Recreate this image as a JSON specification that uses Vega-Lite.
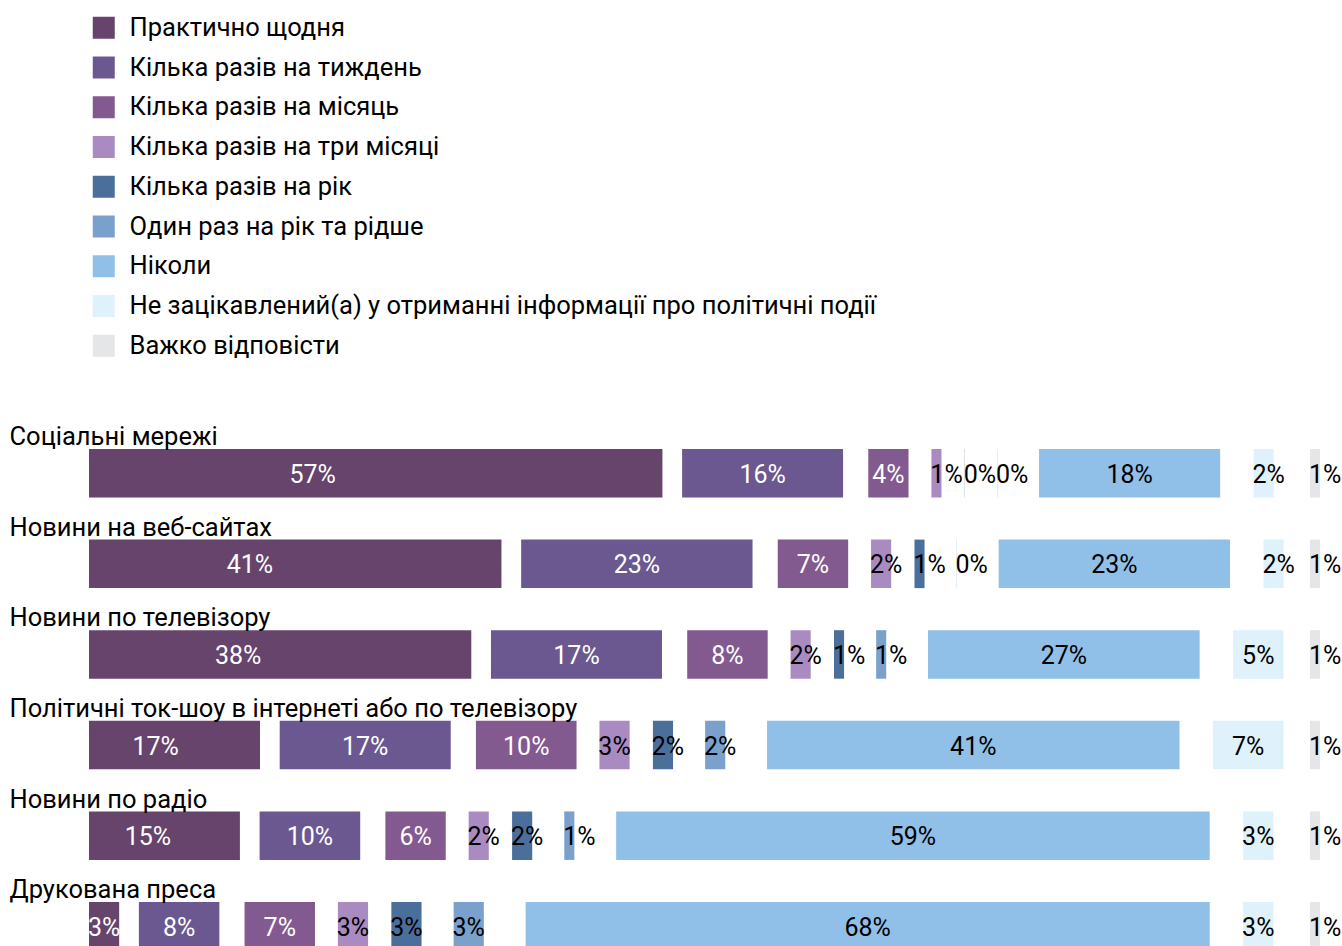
{
  "$schema": "https://vega.github.io/schema/vega-lite/v6.json",
  "width": 1253,
  "height": 501.5,
  "autosize": {"type": "none"},
  "padding": {"left": 89, "top": 449, "right": 0, "bottom": -5},
  "background": "white",
  "config": {
    "font": "Roboto",
    "view": {"stroke": null}
  },
  "data": {
    "values": [
      {"source": "Соціальні мережі", "category": "Практично щодня", "value": 57},
      {"source": "Соціальні мережі", "category": "Кілька разів на тиждень", "value": 16},
      {"source": "Соціальні мережі", "category": "Кілька разів на місяць", "value": 4},
      {"source": "Соціальні мережі", "category": "Кілька разів на три місяці", "value": 1},
      {"source": "Соціальні мережі", "category": "Кілька разів на рік", "value": 0.02},
      {"source": "Соціальні мережі", "category": "Один раз на рік та рідше", "value": 0.02},
      {"source": "Соціальні мережі", "category": "Ніколи", "value": 18},
      {"source": "Соціальні мережі", "category": "Не зацікавлений(а) у отриманні інформації про політичні події", "value": 2},
      {"source": "Соціальні мережі", "category": "Важко відповісти", "value": 1},
      {"source": "Новини на веб-сайтах", "category": "Практично щодня", "value": 41},
      {"source": "Новини на веб-сайтах", "category": "Кілька разів на тиждень", "value": 23},
      {"source": "Новини на веб-сайтах", "category": "Кілька разів на місяць", "value": 7},
      {"source": "Новини на веб-сайтах", "category": "Кілька разів на три місяці", "value": 2},
      {"source": "Новини на веб-сайтах", "category": "Кілька разів на рік", "value": 1},
      {"source": "Новини на веб-сайтах", "category": "Один раз на рік та рідше", "value": 0.02},
      {"source": "Новини на веб-сайтах", "category": "Ніколи", "value": 23},
      {"source": "Новини на веб-сайтах", "category": "Не зацікавлений(а) у отриманні інформації про політичні події", "value": 2},
      {"source": "Новини на веб-сайтах", "category": "Важко відповісти", "value": 1},
      {"source": "Новини по телевізору", "category": "Практично щодня", "value": 38},
      {"source": "Новини по телевізору", "category": "Кілька разів на тиждень", "value": 17},
      {"source": "Новини по телевізору", "category": "Кілька разів на місяць", "value": 8},
      {"source": "Новини по телевізору", "category": "Кілька разів на три місяці", "value": 2},
      {"source": "Новини по телевізору", "category": "Кілька разів на рік", "value": 1},
      {"source": "Новини по телевізору", "category": "Один раз на рік та рідше", "value": 1},
      {"source": "Новини по телевізору", "category": "Ніколи", "value": 27},
      {"source": "Новини по телевізору", "category": "Не зацікавлений(а) у отриманні інформації про політичні події", "value": 5},
      {"source": "Новини по телевізору", "category": "Важко відповісти", "value": 1},
      {"source": "Політичні ток-шоу в інтернеті або по телевізору", "category": "Практично щодня", "value": 17},
      {"source": "Політичні ток-шоу в інтернеті або по телевізору", "category": "Кілька разів на тиждень", "value": 17},
      {"source": "Політичні ток-шоу в інтернеті або по телевізору", "category": "Кілька разів на місяць", "value": 10},
      {"source": "Політичні ток-шоу в інтернеті або по телевізору", "category": "Кілька разів на три місяці", "value": 3},
      {"source": "Політичні ток-шоу в інтернеті або по телевізору", "category": "Кілька разів на рік", "value": 2},
      {"source": "Політичні ток-шоу в інтернеті або по телевізору", "category": "Один раз на рік та рідше", "value": 2},
      {"source": "Політичні ток-шоу в інтернеті або по телевізору", "category": "Ніколи", "value": 41},
      {"source": "Політичні ток-шоу в інтернеті або по телевізору", "category": "Не зацікавлений(а) у отриманні інформації про політичні події", "value": 7},
      {"source": "Політичні ток-шоу в інтернеті або по телевізору", "category": "Важко відповісти", "value": 1},
      {"source": "Новини по радіо", "category": "Практично щодня", "value": 15},
      {"source": "Новини по радіо", "category": "Кілька разів на тиждень", "value": 10},
      {"source": "Новини по радіо", "category": "Кілька разів на місяць", "value": 6},
      {"source": "Новини по радіо", "category": "Кілька разів на три місяці", "value": 2},
      {"source": "Новини по радіо", "category": "Кілька разів на рік", "value": 2},
      {"source": "Новини по радіо", "category": "Один раз на рік та рідше", "value": 1},
      {"source": "Новини по радіо", "category": "Ніколи", "value": 59},
      {"source": "Новини по радіо", "category": "Не зацікавлений(а) у отриманні інформації про політичні події", "value": 3},
      {"source": "Новини по радіо", "category": "Важко відповісти", "value": 1},
      {"source": "Друкована преса", "category": "Практично щодня", "value": 3},
      {"source": "Друкована преса", "category": "Кілька разів на тиждень", "value": 8},
      {"source": "Друкована преса", "category": "Кілька разів на місяць", "value": 7},
      {"source": "Друкована преса", "category": "Кілька разів на три місяці", "value": 3},
      {"source": "Друкована преса", "category": "Кілька разів на рік", "value": 3},
      {"source": "Друкована преса", "category": "Один раз на рік та рідше", "value": 3},
      {"source": "Друкована преса", "category": "Ніколи", "value": 68},
      {"source": "Друкована преса", "category": "Не зацікавлений(а) у отриманні інформації про політичні події", "value": 3},
      {"source": "Друкована преса", "category": "Важко відповісти", "value": 1}
    ]
  },
  "transform": [
    {"calculate": "indexof(['Практично щодня','Кілька разів на тиждень','Кілька разів на місяць','Кілька разів на три місяці','Кілька разів на рік','Один раз на рік та рідше','Ніколи','Не зацікавлений(а) у отриманні інформації про політичні події','Важко відповісти'], datum.category)", "as": "ord"},
    {"stack": "value", "groupby": ["source"], "sort": [{"field": "ord", "order": "ascending"}], "as": ["s0", "s1"]},
    {"calculate": "[0, 1.958, 4.463, 6.740, 9.056, 12.247, 16.402, 19.732, 0][datum.ord]", "as": "off"},
    {"calculate": "datum.ord == 8 ? 122.37 - datum.value : datum.s0 + datum.off", "as": "x0"},
    {"calculate": "datum.ord == 8 ? 122.37 : datum.s1 + datum.off", "as": "x1"},
    {"calculate": "max(datum.ord == 0 ? datum.x0 + 0.39 * (datum.x1 - datum.x0) : (datum.x0 + datum.x1) / 2, datum.x0 + 1.5)", "as": "lx"},
    {"calculate": "format(datum.value, '.0f') + '%'", "as": "label"}
  ],
  "encoding": {
    "y": {
      "field": "source",
      "type": "nominal",
      "sort": ["Соціальні мережі", "Новини на веб-сайтах", "Новини по телевізору", "Політичні ток-шоу в інтернеті або по телевізору", "Новини по радіо", "Друкована преса"],
      "scale": {"paddingInner": 0.4647, "paddingOuter": 0},
      "axis": {
        "title": null,
        "domain": false,
        "ticks": false,
        "grid": false,
        "labelAlign": "left",
        "labelBaseline": "alphabetic",
        "labelPadding": 80,
        "labelOffset": -28,
        "labelLimit": 1000,
        "labelFontSize": 25.5,
        "labelColor": "#000000",
        "labelFont": "Roboto",
        "zindex": 1
      }
    }
  },
  "layer": [
    {
      "mark": {"type": "bar"},
      "encoding": {
        "x": {"field": "x0", "type": "quantitative", "scale": {"domain": [0, 124.553], "nice": false, "zero": true}, "axis": null},
        "x2": {"field": "x1"},
        "color": {
          "field": "category",
          "type": "nominal",
          "scale": {
            "domain": ["Практично щодня", "Кілька разів на тиждень", "Кілька разів на місяць", "Кілька разів на три місяці", "Кілька разів на рік", "Один раз на рік та рідше", "Ніколи", "Не зацікавлений(а) у отриманні інформації про політичні події", "Важко відповісти"],
            "range": ["#66446b", "#6b5891", "#835a8f", "#a98bc2", "#4a6f9b", "#7aa1cb", "#90bfe7", "#dff1fa", "#e5e6e8"]
          },
          "legend": {
            "title": null,
            "orient": "none",
            "legendX": 2,
            "legendY": -434,
            "direction": "vertical",
            "padding": 0,
            "symbolType": "square",
            "symbolSize": 484,
            "symbolStrokeWidth": 0,
            "symbolOpacity": 1,
            "labelFontSize": 25.5,
            "labelFont": "Roboto",
            "labelColor": "#000000",
            "labelOffset": 13,
            "labelLimit": 1000,
            "rowPadding": 12.75
          }
        }
      }
    },
    {
      "mark": {"type": "text", "align": "center", "baseline": "middle", "dy": 1.5, "fontSize": 25, "font": "Roboto"},
      "encoding": {
        "x": {"field": "lx", "type": "quantitative"},
        "text": {"field": "label"},
        "color": {"condition": {"test": "datum.ord < 3", "value": "#ffffff"}, "value": "#000000"}
      }
    }
  ]
}
